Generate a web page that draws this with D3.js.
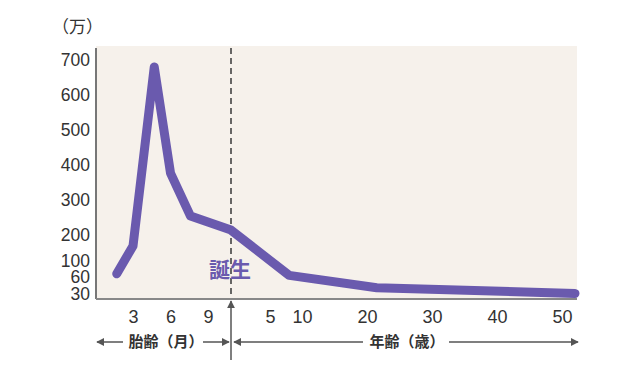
<!DOCTYPE html>
<html>
<head>
<meta charset="utf-8">
<script src="https://cdn.jsdelivr.net/npm/d3@7"></script>
<style>
  body { margin: 0; background: #fff; }
  svg { display: block; font-family: "Liberation Sans", Arial, sans-serif; }
</style>
</head>
<body>
<svg></svg>
<script>
// fetal months / value (万)
let fetalMonths = [1.7, 3, 4.7, 6, 7.6]
let fetalValues = [68, 158, 680, 377, 254]
// postnatal ages (years) / value (万)
let ageYears = [0, 8, 21.5, 52]
let ageValues = [214, 64, 41, 31]

let yTicks = [30, 60, 100, 200, 300, 400, 500, 600, 700]
let fetalTicks = [3, 6, 9]
let ageTicks = [5, 10, 20, 30, 40, 50]

let width = 640
let height = 380
let plotLeft = 96, plotRight = 577, plotTop = 46, plotBottom = 299
let birthX = 231

let svg = d3.select('svg').attr('width', width).attr('height', height)

// piecewise scales
let yScale = d3.scaleLinear()
    .domain([30, 60, 100, 200, 700])
    .range([294, 277, 261, 235, 60])

let xFetal = d3.scaleLinear()
    .domain([3, 9])
    .range([133, 208])

let xAge = d3.scaleLinear()
    .domain([0, 5, 10, 50])
    .range([birthX, 270, 302, 562])

// plot background
svg.append('rect')
    .attr('x', plotLeft)
    .attr('y', plotTop)
    .attr('width', plotRight - plotLeft)
    .attr('height', plotBottom - plotTop)
    .attr('fill', '#f6f1eb')

// unit label
svg.append('text')
    .attr('x', 52)
    .attr('y', 33)
    .attr('font-size', 17)
    .attr('fill', '#333')
    .style('font-family', '"Noto Sans CJK JP", sans-serif')
    .text('（万）')

// y axis
let yAxis = d3.axisLeft(yScale)
    .tickValues(yTicks)
    .tickFormat(d3.format('d'))
    .tickSize(0)
    .tickPadding(6)
let gy = svg.append('g')
    .attr('transform', 'translate(' + plotLeft + ',0)')
    .call(yAxis)
gy.selectAll('.tick text').attr('font-size', 17.5)

svg.append('line')
    .attr('x1', plotLeft).attr('x2', plotLeft)
    .attr('y1', plotTop + 2).attr('y2', plotBottom)
    .attr('stroke', '#777')
    .attr('stroke-width', 2)

// x axis (two segments)
let gxF = svg.append('g')
    .attr('transform', 'translate(0,' + plotBottom + ')')
    .call(d3.axisBottom(xFetal).tickValues(fetalTicks).tickFormat(d3.format('d')).tickSize(0).tickPadding(11))
let gxA = svg.append('g')
    .attr('transform', 'translate(0,' + plotBottom + ')')
    .call(d3.axisBottom(xAge).tickValues(ageTicks).tickFormat(d3.format('d')).tickSize(0).tickPadding(11))
gxF.selectAll('.tick text').attr('font-size', 18)
gxA.selectAll('.tick text').attr('font-size', 18)

svg.selectAll('.domain').remove()
svg.selectAll('.tick text')
    .attr('fill', '#333')
    .style('font-family', '"Liberation Sans", Arial, sans-serif')

svg.append('line')
    .attr('x1', plotLeft).attr('x2', plotRight)
    .attr('y1', plotBottom).attr('y2', plotBottom)
    .attr('stroke', '#888')
    .attr('stroke-width', 2)

// birth dashed line
svg.append('line')
    .attr('x1', birthX).attr('x2', birthX)
    .attr('y1', plotTop + 2).attr('y2', plotBottom - 2)
    .attr('stroke', '#444')
    .attr('stroke-width', 1.6)
    .attr('stroke-dasharray', '6,4')

// data line
let points = fetalMonths.map((m, i) => [xFetal(m), yScale(fetalValues[i])])
    .concat(ageYears.map((a, i) => [xAge(a), yScale(ageValues[i])]))

svg.append('path')
    .datum(points)
    .attr('d', d3.line())
    .attr('fill', 'none')
    .attr('stroke', '#6a5aae')
    .attr('stroke-width', 9)
    .attr('stroke-linejoin', 'round')
    .attr('stroke-linecap', 'round')

// birth label
svg.append('text')
    .attr('x', 230)
    .attr('y', 277)
    .attr('text-anchor', 'middle')
    .attr('font-size', 21)
    .attr('font-weight', 'bold')
    .attr('fill', '#6a5aae')
    .style('font-family', '"Noto Sans CJK JP", sans-serif')
    .text('誕生')

// arrows under the axis
let defs = svg.append('defs')
defs.append('marker')
    .attr('id', 'head')
    .attr('viewBox', '0 0 10 10')
    .attr('refX', 9).attr('refY', 5)
    .attr('markerWidth', 8).attr('markerHeight', 8)
    .attr('markerUnits', 'userSpaceOnUse')
    .attr('orient', 'auto')
    .append('path')
    .attr('d', 'M0,0 L10,5 L0,10 Z')
    .attr('fill', '#555')

let arrowY = 342
let arrowLines = [
    [123, 97], [203, 229], [363, 234], [449, 578]
]
svg.selectAll('.arr')
    .data(arrowLines)
    .enter()
    .append('line')
    .attr('class', 'arr')
    .attr('x1', d => d[0]).attr('x2', d => d[1])
    .attr('y1', arrowY).attr('y2', arrowY)
    .attr('stroke', '#555')
    .attr('stroke-width', 1.5)
    .attr('marker-end', 'url(#head)')

svg.append('line')
    .attr('x1', birthX).attr('x2', birthX)
    .attr('y1', 360).attr('y2', 301)
    .attr('stroke', '#555')
    .attr('stroke-width', 1.5)
    .attr('marker-end', 'url(#head)')

svg.append('text')
    .attr('x', 166).attr('y', arrowY + 5)
    .attr('text-anchor', 'middle')
    .attr('font-size', 15)
    .attr('font-weight', 'bold')
    .attr('fill', '#333')
    .style('font-family', '"Noto Sans CJK JP", sans-serif')
    .text('胎齢（月）')

svg.append('text')
    .attr('x', 407).attr('y', arrowY + 5)
    .attr('text-anchor', 'middle')
    .attr('font-size', 15)
    .attr('font-weight', 'bold')
    .attr('fill', '#333')
    .style('font-family', '"Noto Sans CJK JP", sans-serif')
    .text('年齢（歳）')
</script>
</body>
</html>
